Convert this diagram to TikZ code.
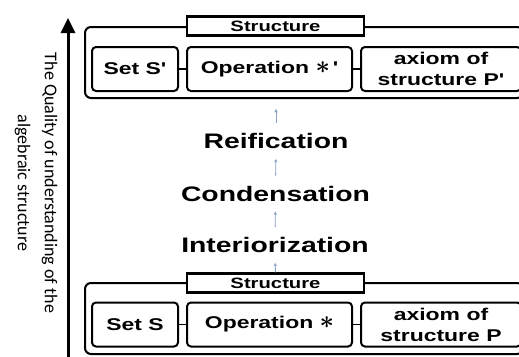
\documentclass[tikz,border=0pt]{standalone}
\usepackage{fontspec}
\usepackage{graphicx}
\usetikzlibrary{arrows.meta,positioning}
\newfontfamily\boxfont{Liberation Sans}[FakeStretch=1.35]
\newfontfamily\sidefont{Carlito}
\definecolor{stepgray}{RGB}{135,160,195}
\newcommand{\opstar}{\scalebox{1.45}{\boldmath$\ast$}}

\begin{document}
\begin{tikzpicture}[
    x=1pt,y=-1pt,
    group/.style={draw,line width=2pt,rounded corners=6pt,
      minimum width=438pt,minimum height=71pt,inner sep=0pt},
    tag/.style={draw,fill=white,line width=2.2pt,minimum width=177pt,
      minimum height=19pt,inner sep=0pt,font=\boxfont\bfseries\fontsize{15}{17}\selectfont},
    part/.style={draw,line width=2pt,rounded corners=4pt,minimum height=44pt,
      inner sep=0pt,align=center,font=\boxfont\bfseries\fontsize{17}{21}\selectfont},
    stage/.style={inner sep=0pt,font=\boxfont\bfseries\fontsize{21}{24}\selectfont},
    link/.style={line width=1.6pt},
    small/.style={-{Stealth[length=3.5pt,width=3.5pt]},stepgray,line width=0.9pt,
      shorten >=10pt,shorten <=10pt},
    quality/.style={-{Triangle[length=15pt,width=14pt]},line width=3pt}
  ]
    \useasboundingbox (0,0) rectangle (519,356);

    % the two structures
    \node[group] (topgrp) at (304,62.5) {};
    \node[tag] (toptag) at (275.5,26) {Structure};
    \node[part,minimum width=86pt] (set1) at (135,69) {Set S'};
    \node[part,minimum width=165pt,right=7pt of set1] (op1) {Operation \opstar\,'};
    \node[part,minimum width=160pt,right=7pt of op1] (ax1) {axiom of\\structure P'};

    \node[group] (botgrp) at (304,318.5) {};
    \node[tag] (bottag) at (275.5,283) {Structure};
    \node[part,minimum width=86pt] (set2) at (135,324.5) {Set S};
    \node[part,minimum width=165pt,right=7pt of set2] (op2) {Operation \opstar};
    \node[part,minimum width=160pt,right=7pt of op2] (ax2) {axiom of\\structure P};

    \draw[link] (set1) -- (op1);
    \draw[link] (op1) -- (ax1);
    \draw[link] (set2) -- (op2);
    \draw[link] (op2) -- (ax2);

    % stages between them
    \node[stage] (reif) at (276,141) {Reification};
    \node[stage] (cond) at (275.5,193.5) {Condensation};
    \node[stage] (intr) at (275,245) {Interiorization};

    \draw[small] (reif.north) -- (reif.north |- topgrp.south);
    \draw[small] (cond) -- (reif);
    \draw[small] (intr) -- (cond);
    \draw[small,shorten <=0pt] (bottag) -- (intr);

    % quality axis
    \coordinate (qbase) at (68,358);
    \coordinate (qtip) at (68,18);
    \draw[quality] (qbase) -- (qtip);
    \node[rotate=-90,align=center,inner sep=0pt,
      font=\sidefont\fontsize{18}{27}\selectfont] (qlabel) at (36,183)
      {The Quality of understanding of the\\algebraic structure};
\end{tikzpicture}
\end{document}
